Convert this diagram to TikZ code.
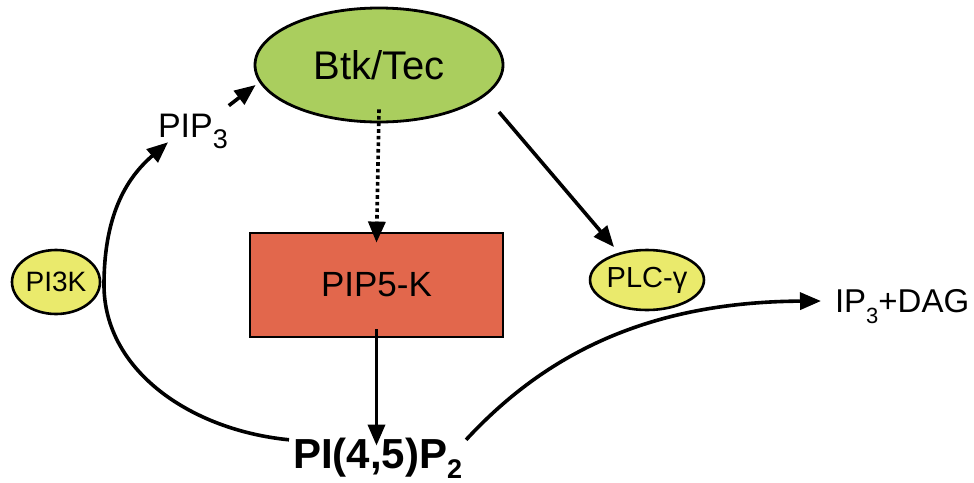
\documentclass[tikz,border=0pt]{standalone}
\usepackage{fontspec}
\setmainfont{Liberation Sans}
\usetikzlibrary{shapes.geometric,arrows.meta,calc}
\definecolor{btkgreen}{RGB}{170,206,94}
\definecolor{enzyellow}{RGB}{234,234,108}
\definecolor{pipred}{RGB}{226,103,76}
\newcommand\lowsub[3]{\raisebox{-#1}{\fontsize{#2}{#2}\selectfont #3}}
\begin{document}
\begin{tikzpicture}[x=1pt,y=-1pt,
  arr/.style={line width=3.6pt,-{Triangle[length=21pt,width=17pt]}},
  dotarr/.style={line width=3.6pt,dash pattern=on 3.6pt off 3pt,-{Triangle[length=21pt,width=17pt]}},
  plain/.style={inner sep=0pt,outer sep=0pt},
  enz/.style={ellipse,draw,line width=2.6pt,fill=enzyellow,inner sep=0pt},
]
\useasboundingbox (0,0) rectangle (974,482);
% nodes
\node[ellipse,draw,line width=2.8pt,fill=btkgreen,minimum width=248pt,minimum height=114pt,inner sep=0pt,
      font=\fontsize{40}{40}\selectfont] (btk) at (379,65) {Btk/Tec};
\node[plain,anchor=base west,font=\fontsize{34}{34}\selectfont] (pip3) at (158,137) {PIP\lowsub{11pt}{27}{3}};
\node[enz,minimum width=88pt,minimum height=64pt,font=\fontsize{28}{28}\selectfont] (pi3k) at (56,282) {PI3K};
\node[draw,line width=2.8pt,fill=pipred,minimum width=253pt,minimum height=104pt,inner sep=0pt,
      font=\fontsize{35}{35}\selectfont] (pip5k) at (376.5,285) {PIP5-K};
\node[enz,minimum width=92pt,minimum height=60pt,font=\fontsize{29}{29}\selectfont] (plc) at (647,280) {PLC-γ};
\node[plain,anchor=base west,font=\fontsize{33}{33}\selectfont] (ipdag) at (835,312) {IP\lowsub{11pt}{22}{3}+DAG};
\node[plain,anchor=base west,font=\bfseries\fontsize{42}{42}\selectfont] (pip2) at (293,468) {PI(4,5)P\lowsub{10pt}{27}{2}};
% connectors
\draw[arr] ([shift={(1,-8)}]pip3.north east) -- ([shift={(2,20)}]btk.west);
\draw[dotarr] ([yshift=14]btk.south) -- ([yshift=-11]pip5k.north);
\draw[arr] ([shift={(120,47)}]btk.center) -- ([shift={(-33,-33)}]plc.center);
\draw[arr] ([yshift=9]pip5k.south) -- ([yshift=-8]pip5k.south |- pip2.north);
\draw[arr] ([shift={(-4,-18)}]pip2.west) .. controls (190,430) and (104,370) .. (104,285)
           .. controls (104,210) and (130,175) .. ([shift={(10,-6)}]pip3.south west);
\draw[arr] ([shift={(4,-18)}]pip2.east) .. controls (540,360) and (640,302) .. ([xshift=-14]ipdag.west |- 0,301);
\end{tikzpicture}
\end{document}
